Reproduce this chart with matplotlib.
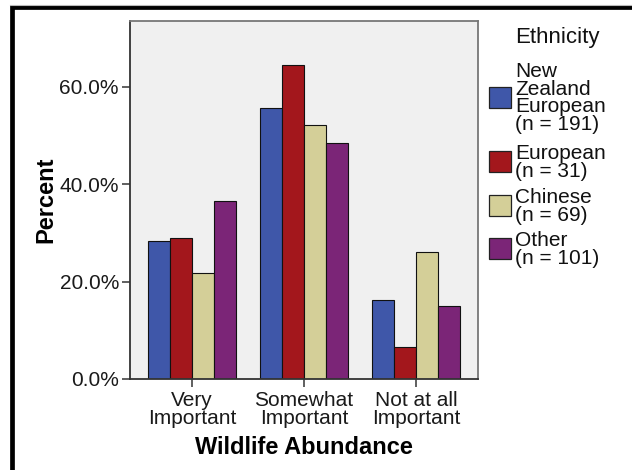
import numpy as np
import matplotlib
matplotlib.use('Agg')
import matplotlib.pyplot as plt
from matplotlib.patches import Rectangle
from matplotlib.lines import Line2D

plt.rcParams['font.family'] = ['Liberation Sans', 'DejaVu Sans']

# data (percent within each ethnicity)
categories = ['Very\nImportant', 'Somewhat\nImportant', 'Not at all\nImportant']
groups = ['New\nZealand\nEuropean\n(n = 191)', 'European\n(n = 31)', 'Chinese\n(n = 69)', 'Other\n(n = 101)']
nz_european = [28.3, 55.5, 16.2]
european = [29.0, 64.5, 6.5]
chinese = [21.7, 52.2, 26.1]
other = [36.6, 48.5, 14.9]
series = [nz_european, european, chinese, other]
colors = ['#3F57A9', '#A3171C', '#D4CF98', '#7B2577']
yticks = [0, 20, 40, 60]

W, H = 632, 470
fig = plt.figure(figsize=(W / 100, H / 100), dpi=100)

# axes placed in pixel terms
left, right, top, bottom = 130, 478, 20.7, 379
ax = fig.add_axes([left / W, (H - bottom) / H, (right - left) / W, (bottom - top) / H])
ax.set_facecolor('#F0F0F0')

x = np.arange(len(categories))
w = 0.196
for i, (vals, c) in enumerate(zip(series, colors)):
    ax.bar(x + (i - 1.5) * w, vals, width=w, color=c, edgecolor='#111111', linewidth=0.8, zorder=2)

ax.set_xlim(-0.553, 2.554)
ax.set_ylim(0, 73.5)
ax.set_yticks(yticks)
ax.set_yticklabels([f'{t:.1f}%' for t in yticks])
ax.set_xticks(x)
ax.set_xticklabels(categories, linespacing=0.92)
ax.tick_params(axis='both', direction='out', length=6, width=1.2, color='#444444',
               labelsize=15, labelcolor='#1a1a1a')
ax.tick_params(axis='y', pad=2)
ax.tick_params(axis='x', pad=3)

for s in ['left', 'bottom']:
    ax.spines[s].set_color('#333333')
    ax.spines[s].set_linewidth(1.3)
for s in ['top', 'right']:
    ax.spines[s].set_color('#777777')
    ax.spines[s].set_linewidth(1.3)

ax.set_xlabel('Wildlife Abundance', fontsize=17, fontweight='bold', va='center')
ax.xaxis.set_label_coords(0.5, -0.19)
ax.set_ylabel('Percent', fontsize=17, fontweight='bold', va='center')
ax.yaxis.set_label_coords(-0.241, 0.5)

# legend drawn by hand to match the layout
fig.text(515 / W, 1 - 37 / H, 'Ethnicity', fontsize=16, va='center', ha='left', color='#111111')
centers = [97, 161.5, 205.5, 248.5]
for label, c, cy in zip(groups, colors, centers):
    fig.patches.append(Rectangle((489 / W, 1 - (cy + 10.5) / H), 22 / W, 21 / H,
                                 transform=fig.transFigure, facecolor=c,
                                 edgecolor='#222222', linewidth=0.9))
    fig.text(515 / W, 1 - (cy + 1) / H, label, fontsize=15, va='center', ha='left',
             linespacing=0.92, color='#111111')

# outer frame
fig.add_artist(Line2D([12 / W, 12 / W, 1], [0, 1 - 7 / H, 1 - 7 / H],
                      transform=fig.transFigure, color='black', linewidth=3.4,
                      solid_joinstyle='miter'))
fig.add_artist(Line2D([10 / W, 1], [1 - 4.5 / H, 1 - 4.5 / H],
                      transform=fig.transFigure, color='#bbbbbb', linewidth=0.8))

fig.savefig('out.png', dpi=100)
